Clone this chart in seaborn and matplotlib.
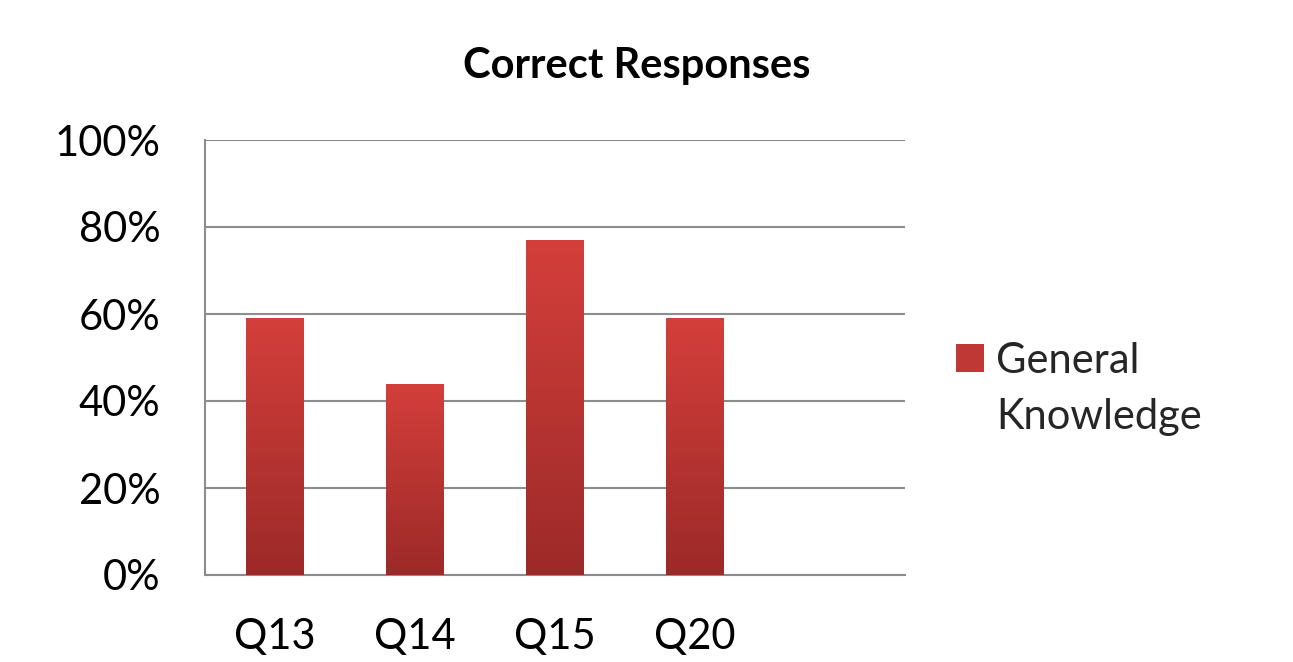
import numpy as np
import pandas as pd
import matplotlib
matplotlib.use("Agg")
import matplotlib.pyplot as plt
import seaborn as sns
from matplotlib.colors import LinearSegmentedColormap
from matplotlib.ticker import PercentFormatter, FixedLocator
from matplotlib.patches import Patch, Rectangle
from matplotlib.legend_handler import HandlerPatch

# data
questions = ["Q13", "Q14", "Q15", "Q20"]
correct_share = [0.59, 0.44, 0.77, 0.59]
series_name = "General\nKnowledge"
y_ticks = [0.0, 0.2, 0.4, 0.6, 0.8, 1.0]

df = pd.DataFrame({"question": questions, "correct": correct_share})

sns.set_style("white")
plt.rcParams["font.family"] = ["Lato", "DejaVu Sans"]

fig = plt.figure(figsize=(12.93, 6.62), dpi=100)
ax = fig.add_axes([205 / 1293, 1 - 575 / 662, 700 / 1293, 435 / 662])

sns.barplot(data=df, x="question", y="correct", order=questions,
            color="#c03835", width=0.41, ax=ax, zorder=3)

# vertical gradient on each bar, lighter at the top
grad_cmap = LinearSegmentedColormap.from_list("bar", ["#9c2a28", "#d43f3b"])
grad = np.linspace(0, 1, 256).reshape(-1, 1)
for bar in list(ax.patches):
    x0, y0 = bar.get_x(), bar.get_y()
    w, h = bar.get_width(), bar.get_height()
    img = ax.imshow(grad, cmap=grad_cmap, origin="lower", aspect="auto",
                    extent=[x0, x0 + w, y0, y0 + h], zorder=3)
    img.set_clip_path(bar)
    bar.set_facecolor("none")
    bar.set_edgecolor("none")

# leave room for an empty fifth slot, as in the original
ax.set_xlim(-0.5, 4.5)
ax.set_ylim(0, 1.0)

ax.yaxis.set_major_locator(FixedLocator(y_ticks))
ax.yaxis.set_major_formatter(PercentFormatter(1.0, decimals=0))
ax.grid(axis="y", color="#8c8c8c", linewidth=1.5, zorder=0)
ax.set_axisbelow(True)
for side in ["top", "right"]:
    ax.spines[side].set_visible(False)
for side in ["left", "bottom"]:
    ax.spines[side].set_color("#8c8c8c")
    ax.spines[side].set_linewidth(1.5)

ax.tick_params(axis="both", length=0, labelsize=30, colors="black")
ax.tick_params(axis="y", pad=32)
ax.tick_params(axis="x", pad=31)
ax.set_xlabel("")
ax.set_ylabel("")

fig.text(637 / 1293, 1 - 66 / 662, "Correct Responses", ha="center", va="center",
         fontsize=30, fontweight="bold", color="black")


def top_square(legend, orig_handle, xdescent, ydescent, width, height, fontsize):
    # square next to the first line of the label, not centred on both lines
    size = 0.68 * fontsize
    return Rectangle((-xdescent, -ydescent + height - size * 0.55), size, size)


handle = Patch(facecolor="#c03835", edgecolor="none")
leg = fig.legend([handle], [series_name], loc="center left",
                 bbox_to_anchor=(918 / 1293, 1 - 389 / 662), frameon=False,
                 fontsize=30, handlelength=0.68, handleheight=2.2,
                 handletextpad=0.3,
                 handler_map={Patch: HandlerPatch(patch_func=top_square)})
for t in leg.get_texts():
    t.set_linespacing(1.6)

fig.savefig("out.png", dpi=100)
